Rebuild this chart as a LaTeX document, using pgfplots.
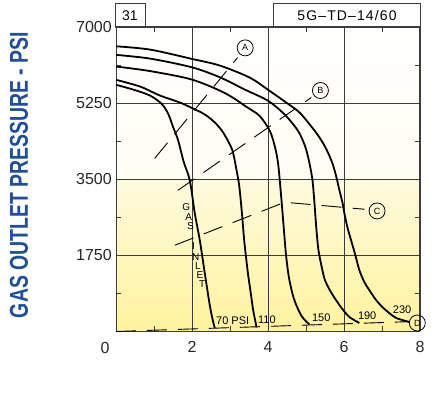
\documentclass[border=0pt]{standalone}
\usepackage{pgfplots}
\pgfplotsset{compat=1.18}
\usepackage{fontspec}
\setmainfont{Liberation Sans}
\definecolor{ylblue}{RGB}{32,79,152}
\definecolor{gridgray}{RGB}{60,60,60}
\definecolor{bgmid}{RGB}{255,253,242}
\definecolor{bgmid2}{RGB}{255,250,222}
\definecolor{bgbot}{RGB}{255,243,158}
\begin{document}
\begin{tikzpicture}[x=1pt,y=1pt]
\begin{axis}[
  set layers,
  at={(116pt,71.5pt)}, anchor=south west,
  width=304pt, height=304.5pt, scale only axis,
  xmin=0, xmax=8, ymin=0, ymax=7000,
  xtick={2,4,6,8}, xticklabels={2,4,6,8},
  ytick={1750,3500,5250,7000}, yticklabels={1750,3500,5250,7000},
  minor xtick={1,3,5,7}, minor ytick={875,2625,4375,6125},
  major tick length=0pt, minor tick length=5pt,
  grid=major,
  major grid style={gridgray, line width=0.9pt},
  axis line style={gridgray, line width=1pt},
  minor tick style={gridgray, line width=0.9pt},
  tick label style={font=\fontsize{16}{16}\selectfont, text=black!85},
  xticklabel style={inner sep=0pt, yshift=-9.5pt},
  yticklabel style={inner sep=0pt, xshift=-4pt},
  clip=false,
]
\begin{pgfonlayer}{axis background}
\path[top color=white, bottom color=bgmid] (axis cs:0,3500) rectangle (axis cs:8,7000);
\path[top color=bgmid2, bottom color=bgbot] (axis cs:0,0) rectangle (axis cs:8,3500);
\end{pgfonlayer}

% 70 PSI
\addplot[black, line width=1.8pt, smooth] coordinates {
(0,5671) (0.446,5563) (0.892,5425) (1.199,5235) (1.373,5006) (1.504,4698) (1.635,4393)
(1.785,3889) (1.942,3476) (2.073,2719) (2.205,2099) (2.336,1342) (2.467,608) (2.546,264) (2.598,80)};
% 110 PSI
\addplot[black, line width=1.8pt, smooth] coordinates {
(0,5786) (0.630,5632) (1.155,5425) (1.680,5264) (1.995,5139) (2.336,4990) (2.598,4806)
(2.782,4622) (2.940,4393) (3.071,4141) (3.163,3751) (3.241,3361) (3.307,2787) (3.373,2099)
(3.425,1686) (3.478,1296) (3.543,906) (3.609,493) (3.701,92)};
% 150 PSI
\addplot[black, line width=1.8pt, smooth] coordinates {
(0,6091) (0.892,5987) (1.995,5792) (2.861,5483) (3.438,5162) (3.780,4955) (4.042,4622)
(4.173,4278) (4.265,3865) (4.344,3131) (4.409,2443) (4.475,1755) (4.554,1227) (4.685,746)
(4.882,356) (5.092,161)};
% 190 PSI
\addplot[black, line width=1.8pt, smooth] coordinates {
(0,6359) (0.892,6274) (1.995,6074) (2.730,5845) (3.386,5563) (3.990,5311) (4.383,5035)
(4.646,4783) (4.829,4554) (4.987,4232) (5.092,3865) (5.171,3475) (5.223,2948) (5.276,2328)
(5.328,1870) (5.420,1457) (5.499,1181) (5.640,929) (5.790,723) (5.958,516) (6.142,333) (6.404,195)};
% 230 PSI
\addplot[black, line width=1.8pt, smooth] coordinates {
(0,6556) (0.892,6481) (1.995,6267) (2.730,6114) (3.517,5838) (3.990,5563) (4.514,5242)
(4.829,5035) (5.118,4737) (5.354,4462) (5.538,4187) (5.696,3865) (5.801,3544) (5.879,3246)
(5.958,2971) (6.010,2718) (6.089,2397) (6.186,2099) (6.299,1755) (6.404,1411) (6.535,1136)
(6.667,952) (6.824,746) (7.008,562) (7.192,424) (7.375,310) (7.717,218)};

% dashed guide lines
\addplot[black, line width=0.9pt, dash pattern=on 20pt off 11pt] coordinates {(1.02,3981) (3.20,6297)};
\addplot[black, line width=0.9pt, dash pattern=on 20pt off 11pt] coordinates {(1.63,3246) (5.14,5379)};
\addplot[black, line width=0.9pt, dash pattern=on 20pt off 11pt] coordinates {(1.55,1984) (4.44,2971) (6.54,2810)};
\addplot[black, line width=0.9pt, dash pattern=on 20pt off 11pt] coordinates {(0,0) (7.70,226)};

\node[draw, circle, minimum size=16pt, inner sep=0pt, line width=0.8pt, font=\fontsize{9}{9}\selectfont] at (axis cs:3.40,6520) {A};
\node[draw, circle, minimum size=16pt, inner sep=0pt, line width=0.8pt, font=\fontsize{9}{9}\selectfont] at (axis cs:5.38,5540) {B};
\node[draw, circle, minimum size=16pt, inner sep=0pt, line width=0.8pt, font=\fontsize{9}{9}\selectfont] at (axis cs:6.87,2771) {C};
\node[draw, circle, minimum size=16pt, inner sep=0pt, line width=0.8pt, font=\fontsize{9}{9}\selectfont] at (axis cs:7.93,195) {D};

\node[font=\fontsize{11}{11}\selectfont, inner sep=1pt] at (axis cs:3.07,252) {70 PSI};
\node[font=\fontsize{11}{11}\selectfont, inner sep=1pt] at (axis cs:3.97,275) {110};
\node[font=\fontsize{11}{11}\selectfont, inner sep=1pt] at (axis cs:5.40,310) {150};
\node[font=\fontsize{11}{11}\selectfont, inner sep=1pt] at (axis cs:6.61,356) {190};
\node[font=\fontsize{11}{11}\selectfont, inner sep=1pt] at (axis cs:7.53,505) {230};
\end{axis}

% header boxes
\draw[gridgray, line width=1pt] (115,375) rectangle (145,399);
\node[font=\fontsize{14}{14}\selectfont] at (130,387) {31};
\draw[gridgray, line width=1pt] (273,375) rectangle (420,399);
\node[font=\fontsize{14}{14}\selectfont\addfontfeature{LetterSpace=8}] at (347,387) {5G–TD–14/60};
% zero label
\node[font=\fontsize{16}{16}\selectfont, text=black!85] at (105,55.5) {0};
% GAS INLET
\begin{scope}[every node/.style={font=\fontsize{10}{10}\selectfont, inner sep=0pt}]
\node at (186.2,195.5) {G};
\node at (188.6,186.3) {A};
\node at (190.4,177.2) {S};
\node at (193.5,157) {I};
\node at (195.8,146.3) {N};
\node at (197.8,136.6) {L};
\node at (200,127.8) {E};
\node at (202.2,118.5) {T};
\end{scope}
% y label
\node[rotate=90, text=ylblue, inner sep=0pt] at (19,228) {\resizebox{286pt}{18pt}{\bfseries GAS OUTLET PRESSURE - PSI}};
\path (0,0) rectangle (442,403);
\end{tikzpicture}
\end{document}
